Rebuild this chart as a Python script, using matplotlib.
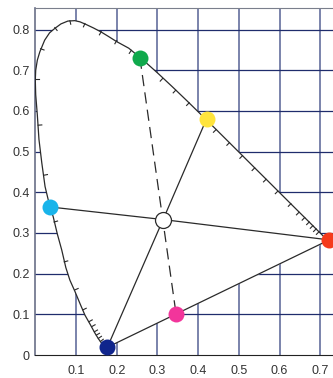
import numpy as np
import matplotlib.pyplot as plt
from matplotlib.patches import Polygon

# ── 1. DATA ──────────────────────────────────────────────────────────────────

# spectral locus, from the blue end round to the red end
locus_x = [0.177, 0.170, 0.163, 0.155, 0.147, 0.135, 0.122, 0.110, 0.0975,
           0.085, 0.075, 0.065, 0.054, 0.044, 0.036, 0.024, 0.016, 0.009,
           0.005, 0.001, 0.000, 0.001, 0.005, 0.011, 0.023, 0.035, 0.048,
           0.063, 0.080, 0.097, 0.110, 0.125, 0.143, 0.162, 0.180, 0.199,
           0.2296, 0.2658, 0.3016, 0.3373, 0.3731, 0.4087, 0.4441, 0.4788,
           0.5125, 0.5448, 0.5752, 0.6029, 0.6270, 0.6482, 0.6658, 0.6801,
           0.6915, 0.7006, 0.7079, 0.7140, 0.7220]
locus_y = [0.019, 0.022, 0.029, 0.040, 0.053, 0.075, 0.098, 0.126, 0.156,
           0.184, 0.215, 0.258, 0.298, 0.340, 0.364, 0.414, 0.472, 0.530,
           0.590, 0.640, 0.676, 0.700, 0.725, 0.745, 0.774, 0.792, 0.803,
           0.814, 0.821, 0.822, 0.819, 0.8125, 0.804, 0.794, 0.783, 0.771,
           0.7543, 0.7243, 0.6923, 0.6589, 0.6245, 0.5896, 0.5547, 0.5202,
           0.4866, 0.4544, 0.4242, 0.3965, 0.3725, 0.3514, 0.3340, 0.3197,
           0.3083, 0.2993, 0.2920, 0.2859, 0.2810]

# wavelength tick marks along the locus
tick_x = [0.160, 0.155, 0.150, 0.145, 0.139, 0.132, 0.117, 0.097, 0.071,
          0.046, 0.021, 0.007, 0.000, 0.013,
          0.048, 0.085, 0.122, 0.162, 0.200, 0.236,
          0.313, 0.345, 0.378, 0.444, 0.477, 0.509, 0.539, 0.567, 0.596,
          0.628, 0.648, 0.662, 0.673, 0.682, 0.690, 0.697]
tick_y = [0.033, 0.041, 0.049, 0.057, 0.070, 0.082, 0.111, 0.160, 0.229,
          0.327, 0.442, 0.565, 0.678, 0.753,
          0.805, 0.822, 0.815, 0.795, 0.773, 0.749,
          0.680, 0.651, 0.620, 0.554, 0.522, 0.490, 0.460, 0.432, 0.403,
          0.372, 0.351, 0.338, 0.327, 0.318, 0.310, 0.303]

# coloured points
white_x, white_y = 0.314, 0.333
green_x, green_y = 0.257, 0.731
yellow_x, yellow_y = 0.421, 0.581
cyan_x, cyan_y = 0.036, 0.364
blue_x, blue_y = 0.177, 0.019
pink_x, pink_y = 0.346, 0.100
red_x, red_y = 0.722, 0.283

x_ticks = [0.1, 0.2, 0.3, 0.4, 0.5, 0.6, 0.7]
x_tick_labels = ['0.1', '0.2', '0.3', '0.4', '0.5', '0.6', '0.7']
y_ticks = [0, 0.1, 0.2, 0.3, 0.4, 0.5, 0.6, 0.7, 0.8]
y_tick_labels = ['0', '0.1', '0.2', '0.3', '0.4', '0.5', '0.6', '0.7', '0.8']


# ── 2. FIGURE ────────────────────────────────────────────────────────────────

plt.rcParams['font.family'] = ['Liberation Sans', 'DejaVu Sans']

fig = plt.figure(figsize=(3.33, 3.78), dpi=100)
ax = fig.add_axes([0.106, 0.0608, 0.894, 0.919])

# grid drawn by hand, then hidden inside the horseshoe by a white patch
for v in x_ticks:
    ax.plot([v, v], [0, 0.854], color='#6f7aa5', lw=1.3, zorder=1)
for h in y_ticks[1:]:
    ax.plot([0, 0.7314], [h, h], color='#1f2c6c', lw=0.9, zorder=1)

gamut = Polygon(np.column_stack([locus_x, locus_y]), closed=True,
                facecolor='white', edgecolor='none', zorder=2)
ax.add_patch(gamut)

# spectral locus + purple line
ax.plot(locus_x, locus_y, color='#2a2a2a', lw=0.9, zorder=3)
ax.plot([blue_x, red_x], [blue_y, red_y], color='#2a2a2a', lw=0.9, zorder=3)

# small inward ticks on the locus
lx, ly = np.array(locus_x), np.array(locus_y)
for tx, ty in zip(tick_x, tick_y):
    i = int(np.argmin((lx - tx) ** 2 + (ly - ty) ** 2))
    i0, i1 = max(i - 1, 0), min(i + 1, len(lx) - 1)
    dx, dy = lx[i1] - lx[i0], ly[i1] - ly[i0]
    nx, ny = -dy, dx
    n = np.hypot(nx, ny)
    nx, ny = nx / n, ny / n
    if nx * (white_x - tx) + ny * (white_y - ty) < 0:
        nx, ny = -nx, -ny
    ax.plot([tx, tx + 0.009 * nx], [ty, ty + 0.009 * ny],
            color='#2a2a2a', lw=0.8, zorder=3)

# lines through the white point
for px, py in [(cyan_x, cyan_y), (red_x, red_y), (yellow_x, yellow_y), (blue_x, blue_y)]:
    ax.plot([white_x, px], [white_y, py], color='#2a2a2a', lw=0.9, zorder=4)
ax.plot([green_x, pink_x], [green_y, pink_y], color='#2a2a2a', lw=0.9,
        dashes=(9, 5), zorder=4)

# dots
dots = [(green_x, green_y, '#10a94c'), (yellow_x, yellow_y, '#ffe43c'),
        (cyan_x, cyan_y, '#19b4ea'), (blue_x, blue_y, '#10258c'),
        (pink_x, pink_y, '#f2359b'), (red_x, red_y, '#f53a1c')]
for px, py, c in dots:
    ax.plot(px, py, 'o', ms=11.5, color=c, mec='none', zorder=5, clip_on=False)
ax.plot(white_x, white_y, 'o', ms=11.5, mfc='white', mec='#2a2a2a', mew=0.9,
        zorder=6, clip_on=False)

# axes styling
ax.set_xlim(0, 0.7314)
ax.set_ylim(0, 0.854)
ax.set_xticks(x_ticks)
ax.set_xticklabels(x_tick_labels)
ax.set_yticks(y_ticks)
ax.set_yticklabels(y_tick_labels)
ax.tick_params(axis='both', length=0, labelsize=9, labelcolor='#333333')
ax.tick_params(axis='x', pad=7)
ax.tick_params(axis='y', pad=4)
ax.spines['right'].set_visible(False)
ax.spines['top'].set_color('#7a7f8c')
ax.spines['left'].set_color('#6a7088')
ax.spines['left'].set_linewidth(1.2)
ax.spines['bottom'].set_color('#222222')

fig.savefig('out.png', dpi=100)
